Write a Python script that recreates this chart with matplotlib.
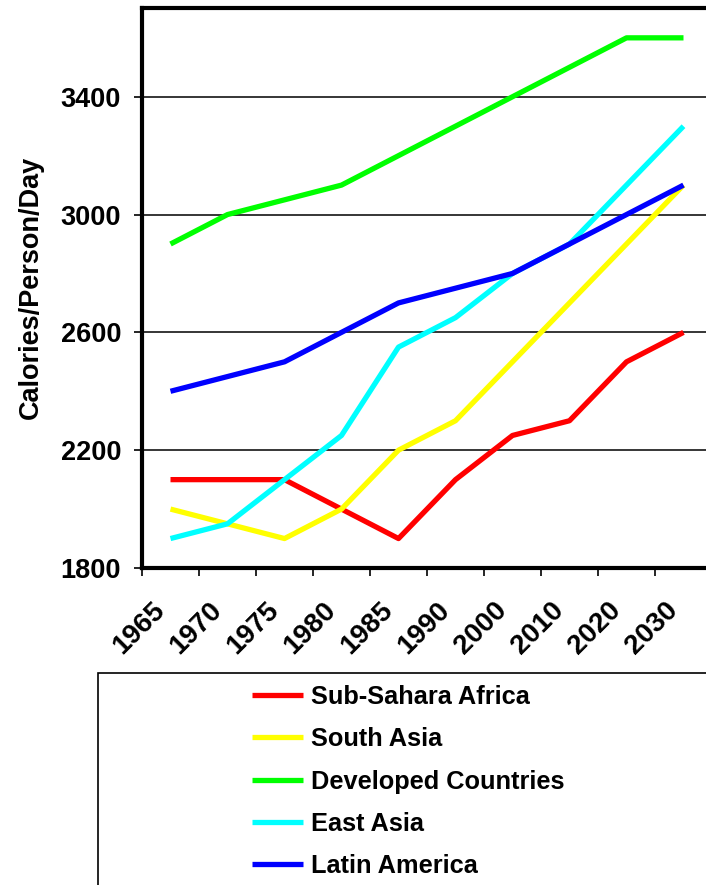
import numpy as np
import matplotlib
matplotlib.use('Agg')
import matplotlib.pyplot as plt
from matplotlib.patches import Rectangle
from matplotlib.transforms import ScaledTranslation

plt.rcParams['font.family'] = ['Liberation Sans', 'DejaVu Sans']
plt.rcParams['font.weight'] = 'bold'

years = ['1965', '1970', '1975', '1980', '1985', '1990', '2000', '2010', '2020', '2030']
sub_sahara = [2100, 2100, 2100, 2000, 1900, 2100, 2250, 2300, 2500, 2600]
south_asia = [2000, 1950, 1900, 2000, 2200, 2300, 2500, 2700, 2900, 3100]
developed = [2900, 3000, 3050, 3100, 3200, 3300, 3400, 3500, 3600, 3600]
east_asia = [1900, 1950, 2100, 2250, 2550, 2650, 2800, 2900, 3100, 3300]
latin_america = [2400, 2450, 2500, 2600, 2700, 2750, 2800, 2900, 3000, 3100]

series = [('Sub-Sahara Africa', sub_sahara, '#FF0000'),
          ('South Asia', south_asia, '#FFFF00'),
          ('Developed Countries', developed, '#00FF00'),
          ('East Asia', east_asia, '#00FFFF'),
          ('Latin America', latin_america, '#0000FF')]

W, H = 706, 885
fig = plt.figure(figsize=(W / 100, H / 100), dpi=100)
ax = fig.add_axes([142 / W, (H - 568) / H, (712 - 142) / W, (568 - 7.5) / H])

x = np.arange(len(years))
for name, vals, col in series:
    ax.plot(x, vals, color=col, lw=3.8, label=name, solid_capstyle='butt')

ax.set_xlim(-0.5, len(years) - 0.5)
ax.set_ylim(1800, 3703)
ax.set_yticks([1800, 2200, 2600, 3000, 3400])
ax.yaxis.grid(True, color='black', lw=1.1)
ax.set_axisbelow(True)

for s in ['left', 'top', 'bottom']:
    ax.spines[s].set_linewidth(3)
ax.spines['right'].set_visible(False)

ax.tick_params(axis='y', length=6, width=1.2, pad=9, labelsize=19.5)
ax.set_xticks(x)
ax.set_xticks(np.arange(len(years) + 1) - 0.5, minor=True)
ax.tick_params(axis='x', which='minor', length=6, width=1.2)
ax.tick_params(axis='x', which='major', length=0, pad=21, labelsize=20)
ax.set_xticklabels(years, rotation=45, ha='right', va='top', rotation_mode='anchor')
off = ScaledTranslation(-19 / 100, 0, fig.dpi_scale_trans)
for lab in ax.get_xticklabels():
    lab.set_transform(lab.get_transform() + off)

ax.set_ylabel('Calories/Person/Day', fontsize=19.5, fontweight='bold', labelpad=12)

# legend box
fig.patches.append(Rectangle((98 / W, -0.05), 1.0, (H - 673) / H + 0.05,
                             transform=fig.transFigure, fill=False,
                             edgecolor='black', lw=1.2))
ax.legend(loc='upper left', bbox_to_anchor=(252 / W, 1 - 685 / H),
          bbox_transform=fig.transFigure, frameon=False, fontsize=18.3,
          borderpad=0, borderaxespad=0, handlelength=2.0, handletextpad=0.33,
          labelspacing=0.72)

fig.savefig('out.png', dpi=100)
